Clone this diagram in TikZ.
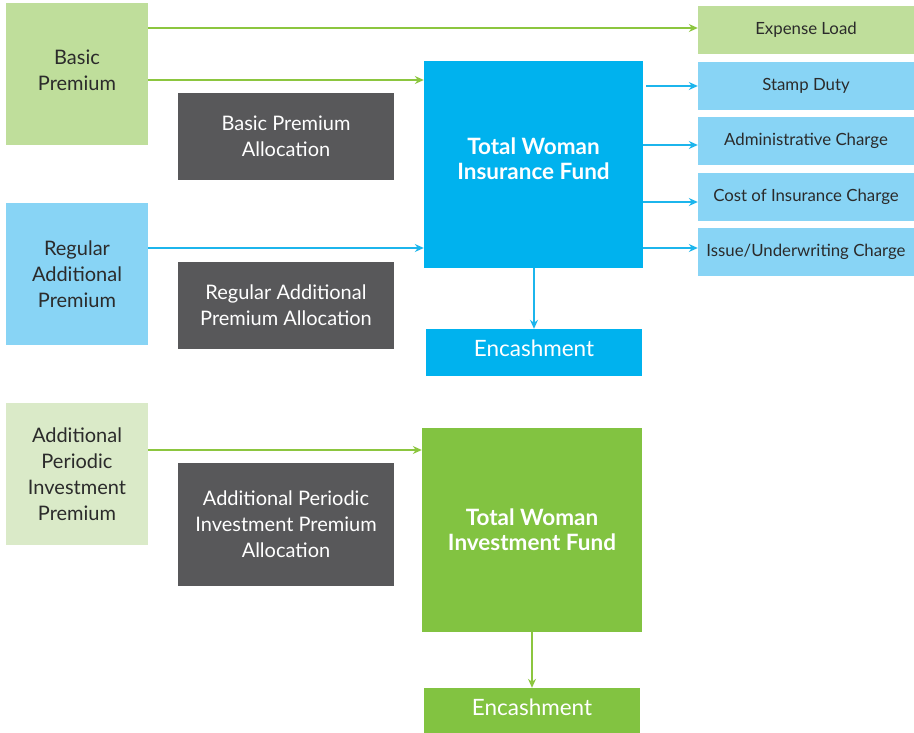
\documentclass[tikz,border=0pt]{standalone}
\usepackage{fontspec}
\setmainfont{Lato}
\usetikzlibrary{arrows.meta}
\definecolor{lgreen}{HTML}{BFDE9B}
\definecolor{pgreen}{HTML}{DAEAC8}
\definecolor{lblue}{HTML}{88D4F5}
\definecolor{fblue}{HTML}{00B2EE}
\definecolor{dgray}{HTML}{58585A}
\definecolor{fgreen}{HTML}{82C341}
\definecolor{agreen}{HTML}{8CC63F}
\definecolor{ablue}{HTML}{1CB5EC}
\definecolor{ink}{HTML}{2B2B2B}
\tikzset{
  box/.style={rectangle, inner sep=2pt, align=center, text=ink, font=\fontsize{20}{26}\selectfont},
  src/.style={box, minimum width=142pt, minimum height=142pt},
  alloc/.style={box, fill=dgray, text=white, minimum width=216pt},
  charge/.style={box, fill=lblue, minimum width=216pt, minimum height=48pt, font=\fontsize{16.8}{20}\selectfont},
  fundtxt/.style={align=center, text=white, font=\bfseries\fontsize{22.5}{25}\selectfont},
  fund/.style={box, fundtxt},
  enctxt/.style={align=center, text=white, font=\fontsize{22.5}{24}\selectfont},
  srctxt/.style={align=center, text=ink, font=\fontsize{20}{26}\selectfont},
  garrow/.style={draw=agreen, line width=1.3pt, -{Stealth[length=9pt,width=8pt,inset=3pt]}},
  barrow/.style={draw=ablue, line width=1.3pt, -{Stealth[length=9pt,width=8pt,inset=3pt]}}
}
\begin{document}
\begin{tikzpicture}[x=1pt,y=-1pt]
\useasboundingbox (0,0) rectangle (914,733);
% premium sources
\node[src, fill=lgreen, label={[srctxt, yshift=4pt]center:Basic\\Premium}] (basic) at (77,74) {};
\node[src, fill=lblue] (regular) at (77,274) {Regular\\Additional\\Premium};
\node[src, fill=pgreen] (apip) at (77,474) {Additional\\Periodic\\Investment\\Premium};
% allocation labels
\node[alloc, minimum height=87pt] (bpa) at (286,136.5) {Basic Premium\\Allocation};
\node[alloc, minimum height=87pt] (rapa) at (286,305.5) {Regular Additional\\Premium Allocation};
\node[alloc, minimum height=123pt] (apipa) at (286,524.5) {Additional Periodic\\Investment Premium\\Allocation};
% funds
\node[box, fill=fblue, minimum width=219pt, minimum height=207pt,
      label={[fundtxt, yshift=6pt]center:Total Woman\\Insurance Fund}] (ifund) at (533.5,164.5) {};
\node[fund, fill=fgreen, minimum width=220pt, minimum height=204pt] (vfund) at (532,530) {Total Woman\\Investment Fund};
% encashment
\node[box, fill=fblue, minimum width=216pt, minimum height=47pt,
      label={[enctxt, yshift=4pt]center:Encashment}] (enc1) at (534,352.5) {};
\node[box, fill=fgreen, minimum width=216pt, minimum height=45pt,
      label={[enctxt, yshift=3pt]center:Encashment}] (enc2) at (532,710.5) {};
% charges
\node[charge, fill=lgreen] (expense) at (806,30) {Expense Load};
\node[charge] (stamp) at (806,86) {Stamp Duty};
\node[charge] (admin) at (806,141) {Administrative Charge};
\node[charge] (coi) at (806,197) {Cost of Insurance Charge};
\node[charge] (issue) at (806,252) {Issue/Underwriting Charge};
% premium flows
\draw[garrow] (basic.east |- 0,28) -- (expense.west |- 0,28);
\draw[garrow] (basic.east |- 0,80) -- (ifund.west |- 0,80);
\draw[barrow] (regular.east |- 0,248) -- (ifund.west |- 0,248);
\draw[garrow] (apip.east |- 0,450) -- (vfund.west |- 0,450);
% deductions from the insurance fund
\draw[barrow] ([xshift=3pt]ifund.east |- 0,86) -- (stamp.west |- 0,86);
\draw[barrow] (ifund.east |- 0,145) -- (admin.west |- 0,145);
\draw[barrow] (ifund.east |- 0,202) -- (coi.west |- 0,202);
\draw[barrow] (ifund.east |- 0,248) -- (issue.west |- 0,248);
% encashment flows
\draw[barrow] (ifund.south -| enc1.north) -- (enc1.north);
\draw[garrow] (vfund.south) -- (vfund.south |- enc2.north);
\end{tikzpicture}
\end{document}
